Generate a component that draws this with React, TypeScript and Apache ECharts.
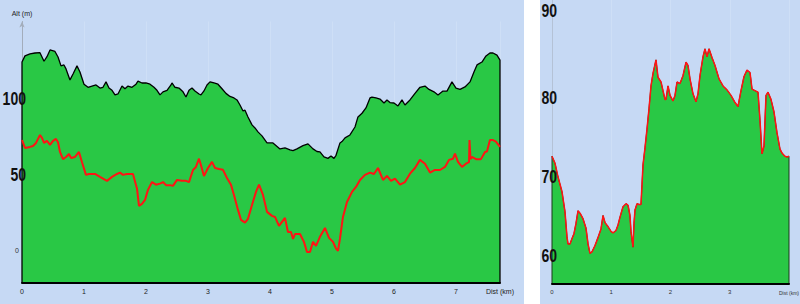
import React, { useEffect, useRef } from "react";
import * as echarts from "echarts";

// ---------- Left chart: altitude profile (black outline, green fill) ----------
const profileDist = [0, 0.048, 0.129, 0.21, 0.29, 0.355, 0.403, 0.452, 0.532, 0.581, 0.629, 0.677, 0.71, 0.774, 0.823, 0.887, 0.935, 1.0, 1.065, 1.129, 1.194, 1.258, 1.306, 1.355, 1.403, 1.452, 1.5, 1.548, 1.613, 1.661, 1.71, 1.774, 1.839, 1.871, 1.935, 2.0, 2.065, 2.129, 2.177, 2.226, 2.274, 2.339, 2.403, 2.419, 2.468, 2.532, 2.597, 2.645, 2.694, 2.742, 2.79, 2.855, 2.887, 2.935, 2.984, 3.032, 3.097, 3.161, 3.226, 3.29, 3.355, 3.419, 3.468, 3.516, 3.565, 3.597, 3.645, 3.71, 3.758, 3.806, 3.871, 3.952, 4.048, 4.161, 4.242, 4.323, 4.371, 4.435, 4.532, 4.613, 4.694, 4.758, 4.806, 4.871, 4.935, 4.984, 5.032, 5.065, 5.129, 5.161, 5.21, 5.29, 5.371, 5.419, 5.484, 5.548, 5.613, 5.645, 5.71, 5.774, 5.839, 5.887, 5.935, 6.0, 6.065, 6.129, 6.177, 6.258, 6.339, 6.419, 6.5, 6.565, 6.645, 6.71, 6.79, 6.855, 6.935, 7.0, 7.065, 7.145, 7.226, 7.29, 7.339, 7.419, 7.484, 7.548, 7.597, 7.661, 7.71];
const profileAlt = [123.5, 127.5, 128.8, 129.4, 129.6, 124, 127, 131.4, 130.4, 126.8, 121, 121.6, 119, 111.8, 115.7, 121, 117, 109, 107, 107.8, 108.5, 106.5, 107, 110.5, 106.5, 105, 102, 102.6, 107.8, 106, 107.8, 107, 109, 111, 109.8, 109.8, 109, 107, 105, 102, 104, 105, 108.5, 109.8, 107, 106.5, 104, 100.6, 105, 106.5, 104.6, 102.6, 102, 104.6, 108.5, 110.5, 109.8, 109, 106, 103, 101, 100, 98.7, 95.4, 91.5, 92, 87.6, 82.4, 80.4, 77.8, 75.2, 70.6, 70.6, 66.7, 67.3, 66, 65.6, 66.7, 68.8, 70, 66.7, 65, 64.7, 61.5, 60.5, 62, 60.5, 62.5, 70.6, 71.5, 73.9, 75.8, 81, 87.6, 90, 93.5, 100, 100.6, 100, 99.3, 96.7, 98.7, 97, 96.7, 94.8, 98.7, 95.4, 98.7, 103, 107, 107.8, 105.6, 104, 102, 104.5, 104.5, 110.5, 106.5, 105.6, 107.2, 110.5, 117, 121.6, 123.5, 127.5, 129.4, 129.4, 128, 124.8];

// ---------- Left chart: red line ----------
const redDist = [0, 0.048, 0.129, 0.177, 0.226, 0.29, 0.323, 0.355, 0.403, 0.452, 0.5, 0.548, 0.581, 0.613, 0.661, 0.71, 0.758, 0.79, 0.855, 0.919, 0.968, 1.032, 1.081, 1.177, 1.258, 1.371, 1.452, 1.532, 1.581, 1.629, 1.694, 1.79, 1.855, 1.887, 1.935, 1.984, 2.032, 2.097, 2.161, 2.226, 2.274, 2.323, 2.387, 2.435, 2.5, 2.581, 2.645, 2.694, 2.758, 2.806, 2.855, 2.887, 2.935, 3.0, 3.065, 3.113, 3.177, 3.242, 3.306, 3.371, 3.419, 3.484, 3.532, 3.597, 3.645, 3.71, 3.774, 3.823, 3.887, 3.952, 4.032, 4.081, 4.145, 4.194, 4.242, 4.29, 4.339, 4.371, 4.403, 4.484, 4.548, 4.597, 4.645, 4.694, 4.742, 4.806, 4.887, 4.952, 5.016, 5.065, 5.097, 5.129, 5.177, 5.242, 5.323, 5.387, 5.452, 5.532, 5.613, 5.677, 5.742, 5.823, 5.887, 5.952, 6.016, 6.097, 6.177, 6.258, 6.339, 6.419, 6.5, 6.581, 6.661, 6.742, 6.823, 6.887, 6.952, 6.984, 7.032, 7.097, 7.161, 7.21, 7.218, 7.234, 7.258, 7.323, 7.403, 7.468, 7.5, 7.548, 7.597, 7.645, 7.71];
const redVal = [72.5, 67.3, 68, 68.6, 70.6, 75.8, 73.9, 70.6, 71.9, 69.3, 71.9, 73.2, 71, 64.7, 60, 61.4, 63.4, 60.8, 61.4, 64.7, 58, 49.7, 50.3, 50.3, 48.4, 45.8, 48.4, 50.3, 51.2, 49.7, 50.3, 50.3, 40.7, 29.4, 30.7, 33.3, 39.9, 45, 43.3, 44, 45, 43, 43, 42.5, 46.4, 45.8, 45.8, 45, 52.9, 54.9, 60.3, 56, 49, 54.2, 58.2, 54.2, 53.6, 53, 47.7, 43.3, 36.6, 26.8, 20.3, 18.5, 21, 30, 38.6, 43.3, 36.6, 25.5, 22.9, 22.2, 16.3, 19, 21.6, 12.4, 12.4, 7.8, 11, 11, 5.9, -0.7, -0.7, 5.9, 3.3, 9.2, 15, 8.5, 5.9, 1.5, 0, 8, 22.2, 32, 38.6, 41.8, 46.4, 49.7, 51.2, 50.3, 54.2, 46.4, 49, 45.8, 47.3, 43.3, 45, 50.5, 54.2, 59.5, 57, 51.2, 52.9, 52.9, 54.9, 59.5, 60.3, 63.6, 58.2, 54.9, 57, 58, 72.5, 60, 61.4, 60, 60, 64.7, 65, 72.5, 72.5, 71.5, 68];

// ---------- Right chart: detail profile ----------
const detailDist = [0, 0.051, 0.101, 0.169, 0.219, 0.253, 0.27, 0.304, 0.338, 0.371, 0.405, 0.439, 0.473, 0.523, 0.574, 0.608, 0.641, 0.675, 0.726, 0.776, 0.827, 0.861, 0.895, 0.945, 0.996, 1.03, 1.08, 1.114, 1.148, 1.198, 1.249, 1.283, 1.316, 1.333, 1.367, 1.384, 1.401, 1.435, 1.468, 1.502, 1.519, 1.536, 1.57, 1.603, 1.637, 1.671, 1.705, 1.755, 1.789, 1.84, 1.873, 1.907, 1.924, 1.958, 1.992, 2.042, 2.076, 2.11, 2.16, 2.211, 2.262, 2.295, 2.329, 2.38, 2.43, 2.464, 2.498, 2.549, 2.582, 2.616, 2.65, 2.7, 2.751, 2.819, 2.886, 2.954, 3.021, 3.089, 3.139, 3.19, 3.241, 3.291, 3.342, 3.376, 3.426, 3.477, 3.511, 3.544, 3.578, 3.612, 3.646, 3.696, 3.747, 3.797, 3.848, 3.882, 3.932, 3.966, 4.0];
const detailAlt = [72.5, 71.6, 69.9, 68, 65.5, 62.3, 61.4, 61.4, 62.1, 62.7, 64, 65.6, 65.3, 64.6, 63.4, 61.4, 60.2, 60.4, 61.2, 62.2, 63.3, 65, 64.1, 63.6, 63, 62.8, 63.1, 63.8, 64.8, 66.1, 66.5, 66.3, 65, 63, 61, 64, 65.7, 66.5, 66.4, 66.4, 68.9, 71.4, 73.6, 75.9, 78.5, 81.4, 83, 84.7, 82.5, 81.9, 80.8, 79.7, 79.7, 81.4, 80.2, 79.5, 80.2, 81.9, 81.7, 82.7, 84.4, 84, 82.3, 80.4, 79.4, 80.4, 82.7, 85.1, 86.1, 85.1, 86.1, 85, 84, 82.3, 81.4, 80.9, 80.2, 79.3, 78.8, 80.8, 82.6, 83.4, 83.1, 81, 80.8, 80.6, 77, 72.8, 73.8, 80.2, 80.6, 79.7, 78.1, 75.5, 73.4, 72.9, 72.5, 72.4, 72.5];

// ---------- Axes / tick labels ----------
const leftBigLabels = [50, 100];
const leftSmallLabels = [0];
const rightBigLabels = [60, 70, 80, 90];
const LEFT_X_MAX = 7.71;
const LEFT_Y_MIN = -21;
const LEFT_Y_MAX = 150;
const RIGHT_X_MAX = 4;
const RIGHT_Y_MIN = 56.33;
const RIGHT_Y_MAX = 92.28;

const BG = "#c6d9f4";
const GREEN = "#29c845";
const RED = "#ff1414";
const GRID_LINE = "#cedff6";
const SMALL_FONT = "'Liberation Sans', Arial, sans-serif";

function pairs(xs: number[], ys: number[]) {
  return xs.map((x, i) => [x, ys[i]]);
}

export default function App() {
  const ref = useRef<HTMLDivElement>(null);

  useEffect(() => {
    if (!ref.current) return;
    const chart = echarts.init(ref.current, undefined, { renderer: "svg" });

    const leftOutline = [
      [profileDist[0], LEFT_Y_MIN],
      ...pairs(profileDist, profileAlt),
      [profileDist[profileDist.length - 1], LEFT_Y_MIN],
    ];
    const rightOutline = [
      [detailDist[0], RIGHT_Y_MIN],
      ...pairs(detailDist, detailAlt),
      [detailDist[detailDist.length - 1], RIGHT_Y_MIN],
    ];

    const overlayX = (gridIndex: number, max: number) => ({
      gridIndex,
      type: "value",
      position: "bottom",
      min: 0,
      max,
      z: 5,
      axisLine: { show: true, onZero: false, lineStyle: { color: "#000", width: 2 } },
      axisTick: { show: false },
      axisLabel: { show: false },
      splitLine: { show: false },
    });

    const backgrounds = [
      { id: "bgL", type: "rect", silent: true, z: -100, shape: { x: 0, y: 0, width: 524, height: 304 }, style: { fill: BG } },
      { id: "bgR", type: "rect", silent: true, z: -100, shape: { x: 540, y: 0, width: 260, height: 304 }, style: { fill: BG } },
    ];

    chart.setOption({
      animation: false,
      backgroundColor: "#ffffff",
      graphic: backgrounds,
      grid: [
        { left: 22, right: 300, top: 21.5, bottom: 21, containLabel: false, outerBoundsMode: "none" },
        { left: 552, right: 11, top: 0, bottom: 20, containLabel: false, outerBoundsMode: "none" },
      ],
      xAxis: [
        {
          gridIndex: 0,
          type: "value",
          position: "bottom",
          min: 0,
          max: LEFT_X_MAX,
          interval: 1,
          axisLine: { show: false, onZero: false },
          axisTick: { show: false },
          axisLabel: { fontSize: 7, color: "#222", margin: 5, fontFamily: SMALL_FONT, showMaxLabel: false },
          splitLine: { show: true, lineStyle: { color: GRID_LINE, width: 1 } },
          name: "Dist (km)",
          nameLocation: "end",
          nameGap: 0,
          nameTextStyle: { fontSize: 7, color: "#222", fontFamily: SMALL_FONT, align: "center", verticalAlign: "top", padding: [5, 0, 0, 0] },
        },
        {
          gridIndex: 1,
          type: "value",
          position: "bottom",
          min: 0,
          max: RIGHT_X_MAX,
          interval: 1,
          axisLine: { show: false, onZero: false },
          axisTick: { show: false },
          axisLabel: { fontSize: 6, color: "#333", margin: 5, fontFamily: SMALL_FONT, showMaxLabel: false },
          splitLine: { show: true, lineStyle: { color: GRID_LINE, width: 1 } },
          name: "Dist (km)",
          nameLocation: "end",
          nameGap: 0,
          nameTextStyle: { fontSize: 5, color: "#333", fontFamily: SMALL_FONT, align: "center", verticalAlign: "top", padding: [6, 0, 0, 0] },
        },
        overlayX(0, LEFT_X_MAX),
        overlayX(1, RIGHT_X_MAX),
      ],
      yAxis: [
        {
          gridIndex: 0,
          type: "value",
          position: "left",
          min: LEFT_Y_MIN,
          max: LEFT_Y_MAX,
          axisLine: { show: true, onZero: false, lineStyle: { color: "#a3adbb", width: 1 }, symbol: ["none", "arrow"], symbolSize: [4, 6] },
          axisTick: { show: false },
          axisLabel: { customValues: leftSmallLabels, fontSize: 7, color: "#333", margin: 3, fontFamily: SMALL_FONT },
          splitLine: { show: false },
          name: "Alt (m)",
          nameLocation: "end",
          nameGap: 5,
          nameTextStyle: { fontSize: 7, color: "#222", fontFamily: SMALL_FONT },
        },
        {
          gridIndex: 1,
          type: "value",
          position: "left",
          min: RIGHT_Y_MIN,
          max: RIGHT_Y_MAX,
          axisLine: { show: true, onZero: false, lineStyle: { color: "#b4c2d6", width: 1 } },
          axisTick: { show: false },
          axisLabel: { show: false },
          splitLine: { show: false },
        },
      ],
      series: [
        {
          type: "line",
          xAxisIndex: 0,
          yAxisIndex: 0,
          data: leftOutline,
          showSymbol: false,
          symbol: "none",
          lineStyle: { color: "#000", width: 1.3 },
          areaStyle: { color: GREEN, opacity: 1, origin: "start" },
          z: 2,
        },
        {
          type: "line",
          xAxisIndex: 0,
          yAxisIndex: 0,
          data: pairs(redDist, redVal),
          showSymbol: false,
          symbol: "none",
          lineStyle: { color: RED, width: 2 },
          z: 3,
        },
        {
          type: "line",
          xAxisIndex: 1,
          yAxisIndex: 1,
          data: rightOutline,
          showSymbol: false,
          symbol: "none",
          lineStyle: { color: "#1a3a1a", width: 1 },
          areaStyle: { color: GREEN, opacity: 1, origin: "start" },
          z: 2,
        },
        {
          type: "line",
          xAxisIndex: 1,
          yAxisIndex: 1,
          data: pairs(detailDist, detailAlt),
          showSymbol: false,
          symbol: "none",
          lineStyle: { color: RED, width: 1.5 },
          z: 3,
        },
      ],
    });

    // Large condensed tick labels, positioned through the axes' own scales.
    const leftAxisX = chart.convertToPixel({ xAxisIndex: 0 }, 0) as number;
    const rightAxisX = chart.convertToPixel({ xAxisIndex: 1 }, 0) as number;
    const bigText = (id: string, text: string, x: number, y: number) => ({
      id,
      type: "text",
      silent: true,
      z: 50,
      x,
      y,
      scaleX: 0.78,
      style: {
        text,
        fill: "#111",
        fontSize: 18,
        fontWeight: "bold",
        fontFamily: SMALL_FONT,
        align: "right",
        verticalAlign: "middle",
      },
    });
    const labels: any[] = [];
    leftBigLabels.forEach((v) => {
      const y = chart.convertToPixel({ yAxisIndex: 0 }, v) as number;
      labels.push(bigText(`l${v}`, String(v), leftAxisX + 4, y));
    });
    rightBigLabels.forEach((v, i) => {
      let y = chart.convertToPixel({ yAxisIndex: 1 }, v) as number;
      if (i === rightBigLabels.length - 1) y = Math.max(9, y - 8);
      labels.push(bigText(`r${v}`, String(v), rightAxisX + 5, y));
    });
    chart.setOption({ graphic: [...backgrounds, ...labels] });

    return () => chart.dispose();
  }, []);

  return (
    <div style={{ position: "absolute", left: 0, top: 0, width: 800, height: 304, background: "#fff" }}>
      <div ref={ref} style={{ width: 800, height: 304 }} />
    </div>
  );
}
